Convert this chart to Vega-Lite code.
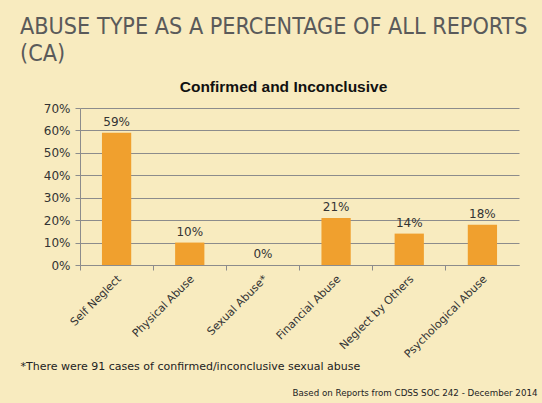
{
  "$schema": "https://vega.github.io/schema/vega-lite/v6.json",
  "autosize": "none",
  "width": 439,
  "height": 157,
  "padding": {"left": 80, "top": 108, "right": 23, "bottom": 138},
  "background": "#f8ebbf",
  "config": {"view": {"stroke": null}},
  "title": {
    "text": ["ABUSE TYPE AS A PERCENTAGE OF ALL REPORTS", "(CA)"],
    "anchor": "start",
    "frame": "group",
    "dx": -60,
    "font": "Liberation Sans Narrow, DejaVu Sans Condensed, Lato",
    "fontSize": 23.2,
    "fontWeight": "normal",
    "color": "#5a5a5a",
    "lineHeight": 27,
    "offset": 13
  },
  "data": {
    "values": [
      {"type": "Self Neglect", "value": 0.59},
      {"type": "Physical Abuse", "value": 0.10},
      {"type": "Sexual Abuse*", "value": 0.0},
      {"type": "Financial Abuse", "value": 0.21},
      {"type": "Neglect by Others", "value": 0.14},
      {"type": "Psychological Abuse", "value": 0.18}
    ]
  },
  "encoding": {
    "y": {
      "field": "value", "type": "quantitative",
      "scale": {"domain": [0, 0.7]},
      "axis": {
        "format": ".0%",
        "values": [0, 0.1, 0.2, 0.3, 0.4, 0.5, 0.6, 0.7],
        "labelOverlap": false,
        "labelFont": "DejaVu Sans",
        "labelFontSize": 12,
        "labelColor": "#333333",
        "labelPadding": 5,
        "domainColor": "#8c8c8c",
        "tickColor": "#8c8c8c",
        "tickSize": 5,
        "gridColor": "#8c8c8c",
        "gridWidth": 1,
        "title": "Based on Reports from CDSS SOC 242 - December 2014",
        "titleAngle": 0,
        "titleFont": "DejaVu Sans",
        "titleFontSize": 8.7,
        "titleFontWeight": "normal",
        "titleColor": "#222222",
        "titleX": 212,
        "titleY": 284,
        "titleAlign": "left",
        "titleBaseline": "middle"
      }
    }
  },
  "layer": [
    {
      "mark": {"type": "bar", "color": "#f0a02e", "width": {"band": 0.4}},
      "encoding": {
        "x": {
          "field": "type", "type": "nominal", "sort": null,
          "scale": {"paddingInner": 0, "paddingOuter": 0},
          "axis": {
            "bandPosition": 0,
            "labelOffset": 3,
            "labelAngle": -45,
            "labelAlign": "right",
            "labelBaseline": "middle",
            "labelPadding": 7,
            "labelFont": "DejaVu Sans",
            "labelFontSize": 11,
            "labelColor": "#333333",
            "domainColor": "#8c8c8c",
            "tickColor": "#8c8c8c",
            "tickSize": 5,
            "title": "*There were 91 cases of confirmed/inconclusive sexual abuse",
            "titleFont": "DejaVu Sans",
            "titleFontSize": 11,
            "titleFontWeight": "normal",
            "titleColor": "#222222",
            "titleX": -60,
            "titleY": 101,
            "titleAlign": "left",
            "titleAnchor": "start",
            "titleBaseline": "middle"
          }
        }
      }
    },
    {
      "mark": {"type": "text", "baseline": "bottom", "dy": -4, "font": "DejaVu Sans", "fontSize": 12, "color": "#333333"},
      "encoding": {
        "x": {
          "field": "type", "type": "nominal", "sort": null,
          "scale": {"paddingInner": 0, "paddingOuter": 0},
          "axis": {
            "orient": "top",
            "labels": false, "ticks": false, "domain": false, "grid": false,
            "title": "Confirmed and Inconclusive",
            "titleFont": "Liberation Sans",
            "titleFontSize": 15.5,
            "titleFontWeight": "bold",
            "titleColor": "#111111",
            "titleX": 203,
            "titleY": -17,
            "titleBaseline": "alphabetic"
          }
        },
        "text": {"field": "value", "type": "quantitative", "format": ".0%"}
      }
    }
  ],
  "resolve": {"scale": {"x": "independent"}}
}
